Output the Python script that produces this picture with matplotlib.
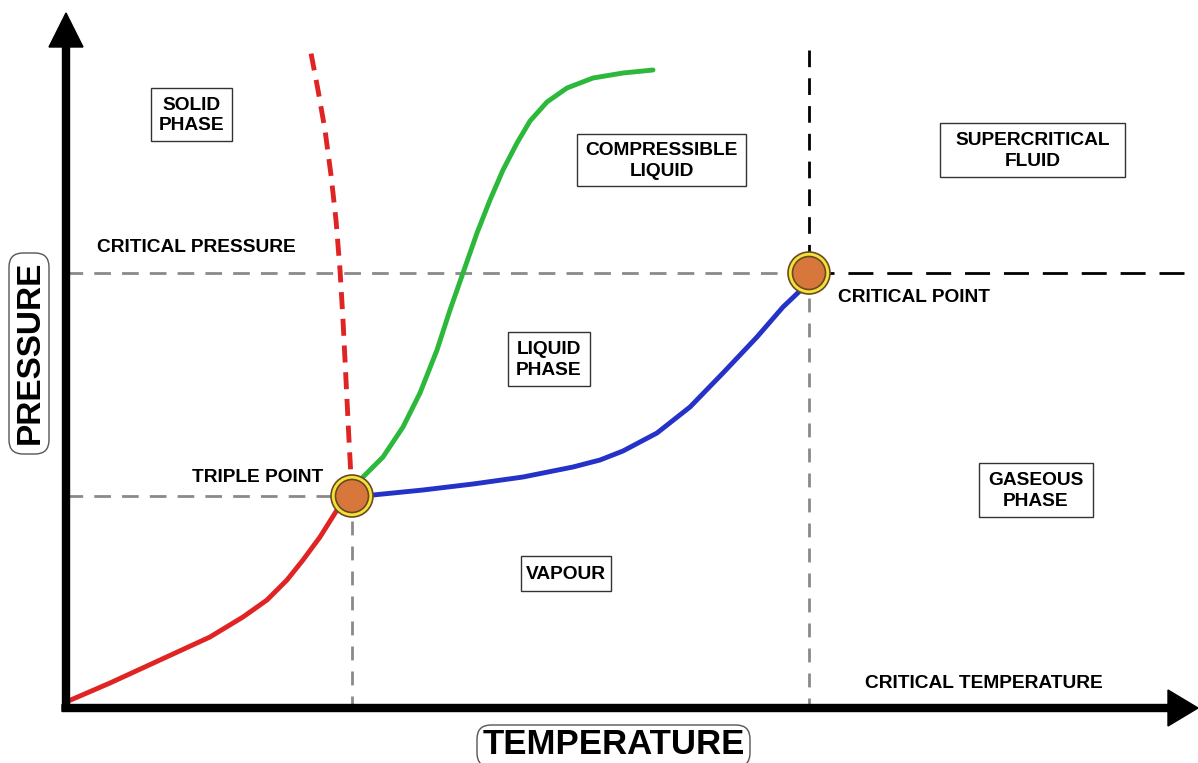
import matplotlib.pyplot as plt
from matplotlib.patches import Rectangle, Circle, FancyBboxPatch

sublimation_T = [66, 110, 160, 210, 243, 267, 287, 303, 320, 337, 352]
sublimation_P = [702, 683, 660, 637, 617, 600, 580, 560, 537, 510, 494]

melting_T = [352, 349, 346, 343, 340, 336, 331, 325, 318, 310]
melting_P = [496, 440, 380, 320, 270, 220, 175, 130, 90, 48]

boiling_T = [352, 373, 423, 473, 523, 573, 600, 623, 657, 690, 723, 757, 783, 803, 809]
boiling_P = [496, 495, 490, 484, 477, 467, 460, 451, 433, 407, 373, 337, 307, 288, 280]

compress_T = [352, 363, 383, 403, 420, 437, 450, 463, 477, 490, 503, 517, 530, 547, 567,
              593, 623, 653]
compress_P = [488, 477, 457, 427, 393, 350, 310, 273, 233, 200, 170, 143, 121, 102, 88,
              78, 73, 70]

triple_point = (352, 496)
critical_point = (809, 273)

box_labels = ["SOLID\nPHASE", "COMPRESSIBLE\nLIQUID", "SUPERCRITICAL\nFLUID",
              "LIQUID\nPHASE", "GASEOUS\nPHASE", "VAPOUR"]
free_labels = ["CRITICAL PRESSURE", "TRIPLE POINT", "CRITICAL POINT", "CRITICAL TEMPERATURE"]

fig = plt.figure(figsize=(11.98, 7.63), dpi=100)
ax = fig.add_axes([0, 0, 1, 1])
ax.set_xlim(0, 1198)
ax.set_ylim(763, 0)
ax.axis('off')

font = 'Liberation Sans'
grey = '#8a8a8a'

# Hilfslinien
ax.plot([66, critical_point[0]], [critical_point[1]] * 2, color=grey, lw=2, ls=(0, (6, 4)))
ax.plot([66, triple_point[0]], [triple_point[1]] * 2, color=grey, lw=2, ls=(0, (6, 4)))
ax.plot([triple_point[0]] * 2, [triple_point[1], 708], color=grey, lw=2, ls=(0, (5, 4)))
ax.plot([critical_point[0]] * 2, [critical_point[1], 708], color=grey, lw=2, ls=(0, (5, 4)))
ax.plot([critical_point[0]] * 2, [50, critical_point[1]], color='k', lw=2, ls=(0, (6, 4)))
ax.plot([critical_point[0], 1198], [critical_point[1]] * 2, color='k', lw=2, ls=(0, (9, 5)))

# Phasengrenzen
kw = dict(lw=3.5, solid_capstyle='round', solid_joinstyle='round')
ax.plot(sublimation_T, sublimation_P, color='#e02424', **kw)
ax.plot(melting_T, melting_P, color='#e02424', lw=3.5, ls=(0, (3.5, 2)))
ax.plot(boiling_T, boiling_P, color='#2432c8', **kw)
ax.plot(compress_T, compress_P, color='#2cb83a', **kw)

# Punkte
for p in [triple_point, critical_point]:
    ax.add_patch(Circle(p, 21, facecolor='#f4e23c', edgecolor='#6b4a1e', lw=1.2, zorder=5))
    ax.add_patch(Circle(p, 16.5, facecolor='#d8773c', edgecolor='#6b4a1e', lw=1.2, zorder=6))

# Achsen mit Pfeilen
ax.arrow(66, 711, 0, -698, width=7, head_width=34, head_length=34,
         length_includes_head=True, color='k', zorder=7)
ax.arrow(62, 708, 1136, 0, width=7, head_width=36, head_length=30,
         length_includes_head=True, color='k', zorder=7)

# Kästchen mit Beschriftungen
boxes = [(151, 88, 81, 53), (577, 134, 169, 52), (940, 123, 185, 54),
         (508, 332, 82, 54), (979, 463, 114, 54), (521, 556, 90, 35)]
for (x, y, w, h), lab in zip(boxes, box_labels):
    ax.add_patch(Rectangle((x, y), w, h, facecolor='white', edgecolor='#333333', lw=1))
    ax.text(x + w / 2, y + h / 2 + 1, lab, ha='center', va='center', fontsize=13.8,
            fontweight='bold', family=font, linespacing=1.3)

free_pos = [(97, 247, 'left'), (192, 478, 'left'), (838, 298, 'left'), (865, 683, 'left')]
for (x, y, ha), lab in zip(free_pos, free_labels):
    ax.text(x, y, lab, ha=ha, va='center', fontsize=13.8, fontweight='bold', family=font)

# Achsentitel
ax.add_patch(FancyBboxPatch((9, 253), 40, 201, boxstyle='round,pad=0,rounding_size=14',
                            facecolor='white', edgecolor='#555555', lw=1))
ax.text(30, 352, 'PRESSURE', rotation=90, ha='center', va='center', fontsize=24,
        fontweight='bold', family=font)
ax.add_patch(FancyBboxPatch((477, 725), 273, 42, boxstyle='round,pad=0,rounding_size=14',
                            facecolor='white', edgecolor='#555555', lw=1))
ax.text(614, 745, 'TEMPERATURE', ha='center', va='center', fontsize=25,
        fontweight='bold', family=font)

plt.savefig('out.png', dpi=100)
